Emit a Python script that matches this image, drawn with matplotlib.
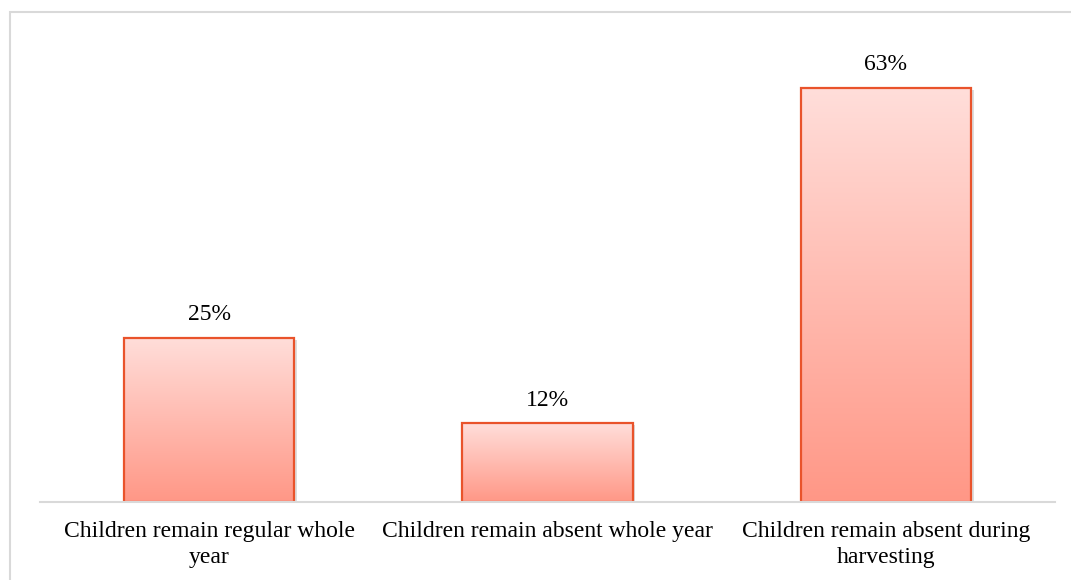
"""Bar chart of children's school attendance pattern."""

import matplotlib

matplotlib.use("Agg")
import matplotlib.pyplot as plt
import numpy as np
from matplotlib.colors import LinearSegmentedColormap
from matplotlib.patches import Rectangle

categories = [
    "Children remain regular whole\nyear",
    "Children remain absent whole year",
    "Children remain absent during\nharvesting",
]
shares = [25, 12, 63]

plt.rcParams["font.family"] = ["Liberation Serif", "DejaVu Serif"]

fig = plt.figure(figsize=(10.71, 5.8), dpi=100)
ax = fig.add_axes([40 / 1071, 78 / 580, 1015 / 1071, 460 / 580])

# light frame around the whole chart area
fig.patches.append(Rectangle((10 / 1071, -0.01), 1.0, (580 - 12) / 580 + 0.01,
                             transform=fig.transFigure, fill=False,
                             edgecolor="#d9d9d9", linewidth=1.5))

cmap = LinearSegmentedColormap.from_list("fade", ["#ff9786", "#ffdeda"])
gradient = np.linspace(0, 1, 256).reshape(-1, 1)
width = 0.503

x = np.arange(len(categories))
for xi, val in zip(x, shares):
    left = xi - width / 2
    # soft shadow
    ax.add_patch(Rectangle((left + 0.008, -0.3), width, val, facecolor="#bdbdbd",
                           edgecolor="none", alpha=0.5, zorder=1))
    img = ax.imshow(gradient, extent=(left, left + width, 0, val), origin="lower",
                    cmap=cmap, aspect="auto", zorder=2)
    rect = Rectangle((left, 0), width, val, facecolor="none",
                     edgecolor="#e9532b", linewidth=1.6, zorder=3)
    ax.add_patch(rect)
    img.set_clip_path(rect)
    ax.annotate(f"{val}%", (xi, val), xytext=(0, 9), textcoords="offset points",
                ha="center", va="bottom", fontsize=17)

ax.set_xlim(-0.5, len(categories) - 0.5)
ax.set_ylim(0, 70)
ax.set_xticks(x)
ax.set_xticklabels(categories, fontsize=17, linespacing=1.3)
ax.tick_params(axis="x", length=0, pad=14)
ax.set_yticks([])
for side in ("top", "left", "right"):
    ax.spines[side].set_visible(False)
ax.spines["bottom"].set_color("#d9d9d9")
ax.spines["bottom"].set_linewidth(1.5)
ax.spines["bottom"].set_zorder(4)

fig.savefig("out.png", dpi=100)
plt.close(fig)
